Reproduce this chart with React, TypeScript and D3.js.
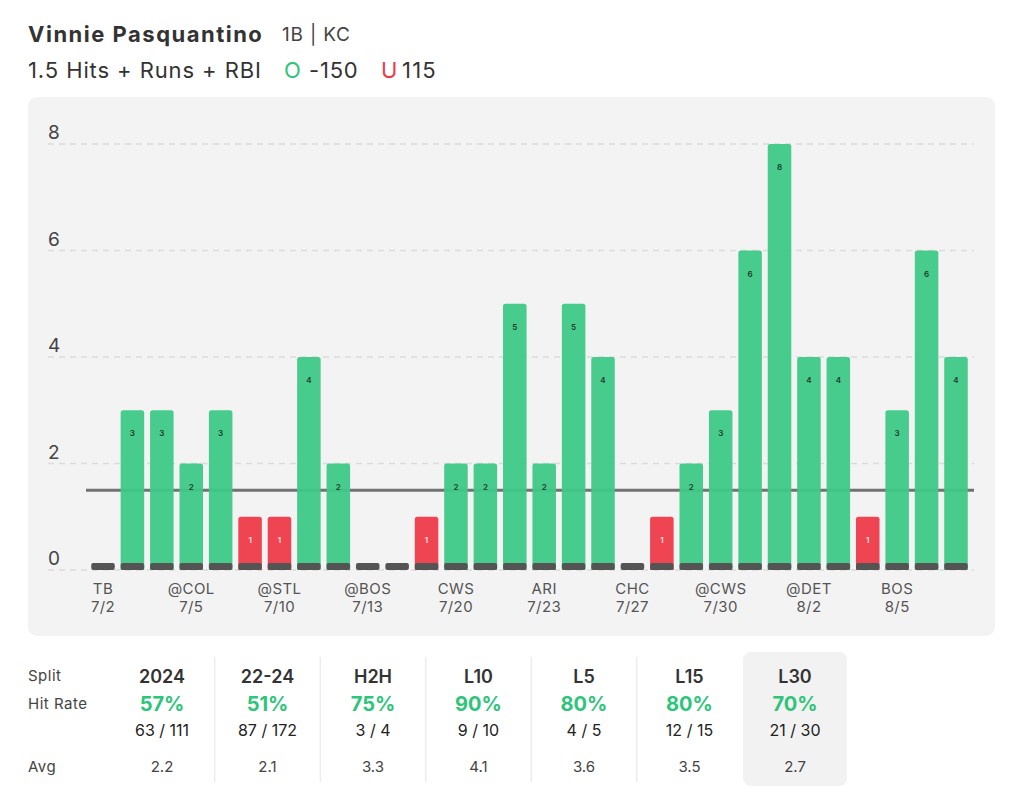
import React from "react";
import * as d3 from "d3";

const games = ["TB","","","@COL","","","@STL","","","@BOS","","","CWS","","","ARI","","","CHC","","","@CWS","","","@DET","","","BOS","",""];
const dates = ["7/2","","","7/5","","","7/10","","","7/13","","","7/20","","","7/23","","","7/27","","","7/30","","","8/2","","","8/5","",""];
const values = [0,3,3,2,3,1,1,4,2,0,0,1,2,2,5,2,5,4,0,1,2,3,6,8,4,4,1,3,6,4];
const yTicks = [0, 2, 4, 6, 8];
const line = 1.5;

const splitNames = ["2024","22-24","H2H","L10","L5","L15","L30"];
const splitRates = ["57%","51%","75%","90%","80%","80%","70%"];
const splitCounts = ["63 / 111","87 / 172","3 / 4","9 / 10","4 / 5","12 / 15","21 / 30"];
const splitAvgs = ["2.2","2.1","3.3","4.1","3.6","3.5","2.7"];

const FONT = "Inter, 'Noto Sans', sans-serif";
const GREEN = "#3ec987";
const RED = "#ee3a48";
const TXT_GREEN = "#2dc57a";

export default function App() {
  const W = 1024, H = 808;
  const x = d3.scaleBand<number>().domain(d3.range(values.length)).range([88.3, 970.7]).paddingInner(0.2).paddingOuter(0.1);
  const y = d3.scaleLinear().domain([0, 8]).range([570, 144]);
  const bw = x.bandwidth();
  const colX = d3.scaleLinear().domain([0, 6]).range([162, 795]);

  const barPath = (x0: number, y0: number, w: number, h: number, r: number) => {
    const rr = Math.min(r, h);
    return `M${x0},${y0 + h}V${y0 + rr}Q${x0},${y0} ${x0 + rr},${y0}H${x0 + w - rr}Q${x0 + w},${y0} ${x0 + w},${y0 + rr}V${y0 + h}Z`;
  };

  return (
    <svg width={W} height={H} style={{ position: "absolute", left: 0, top: 0, fontFamily: FONT }}>
      <rect x={0} y={0} width={W} height={H} fill="#ffffff" />
      {/* header */}
      <text x={28} y={42} fontSize={22} fontWeight={700} fill="#333" letterSpacing={1.5}>Vinnie Pasquantino</text>
      <text x={282} y={41} fontSize={19} fill="#444" letterSpacing={0.8}>1B | KC</text>
      <text x={28} y={78} fontSize={22} fill="#333" letterSpacing={0.9}>1.5 Hits + Runs + RBI</text>
      <text x={284} y={78} fontSize={22} fill={TXT_GREEN}>O</text>
      <text x={309} y={78} fontSize={22} fill="#333" letterSpacing={0.8}>-150</text>
      <text x={381} y={78} fontSize={22} fill={RED}>U</text>
      <text x={402} y={78} fontSize={22} fill="#333" letterSpacing={1.2}>115</text>

      {/* panel */}
      <rect x={28} y={97} width={967} height={539} rx={9} fill="#f3f3f3" />

      {/* grid */}
      {yTicks.map((t) => (
        <g key={t}>
          <line x1={48} x2={974} y1={y(t)} y2={y(t)} stroke="#dcdcdc" strokeWidth={1.5} strokeDasharray="6 5" />
          <text x={48} y={y(t) - 5} fontSize={19} fill="#444">{t}</text>
        </g>
      ))}

      {/* line */}
      <line x1={86} x2={974} y1={y(line)} y2={y(line)} stroke="#727272" strokeWidth={3} />

      {/* bars */}
      {values.map((v, i) => {
        const bx = x(i)!;
        const top = y(v);
        const h = y(0) - top;
        const hit = v > line;
        return (
          <g key={i}>
            {v > 0 && (
              <path d={barPath(bx, top, bw, h, 2.5)} fill={hit ? GREEN : RED} fillOpacity={0.95} />
            )}
            <rect x={bx} y={y(0) - 7} width={bw} height={7} rx={2} fill="#545454" />
            {v > 0 && (
              <text x={bx + bw / 2} y={top + 26} fontSize={8} fontWeight={600} textAnchor="middle" fill={hit ? "#1d3a2a" : "#ffe5e7"}>{v}</text>
            )}
            {games[i] && (
              <text x={bx + bw / 2} y={594} fontSize={15} textAnchor="middle" fill="#555" letterSpacing={0.4}>{games[i]}</text>
            )}
            {dates[i] && (
              <text x={bx + bw / 2} y={612} fontSize={15} textAnchor="middle" fill="#555" letterSpacing={0.4}>{dates[i]}</text>
            )}
          </g>
        );
      })}

      {/* table */}
      <rect x={743} y={652} width={104} height={134} rx={8} fill="#f2f2f2" />
      {[0, 1, 2, 3, 4].map((i) => (
        <line key={i} x1={(colX(i) + colX(i + 1)) / 2} x2={(colX(i) + colX(i + 1)) / 2} y1={657} y2={782} stroke="#e9e9e9" strokeWidth={1.2} />
      ))}
      <text x={28} y={681} fontSize={15} fill="#444" letterSpacing={0.5}>Split</text>
      <text x={28} y={709} fontSize={15} fill="#444" letterSpacing={0.5}>Hit Rate</text>
      <text x={28} y={772} fontSize={15} fill="#444" letterSpacing={0.5}>Avg</text>
      {splitNames.map((s, i) => (
        <g key={s}>
          <text x={colX(i)} y={683} fontSize={18} fontWeight={600} textAnchor="middle" fill="#333">{s}</text>
          <text x={colX(i)} y={711} fontSize={20} fontWeight={700} textAnchor="middle" fill={TXT_GREEN}>{splitRates[i]}</text>
          <text x={colX(i)} y={736} fontSize={16} textAnchor="middle" fill="#222">{splitCounts[i]}</text>
          <text x={colX(i)} y={772} fontSize={15} textAnchor="middle" fill="#444">{splitAvgs[i]}</text>
        </g>
      ))}
    </svg>
  );
}
